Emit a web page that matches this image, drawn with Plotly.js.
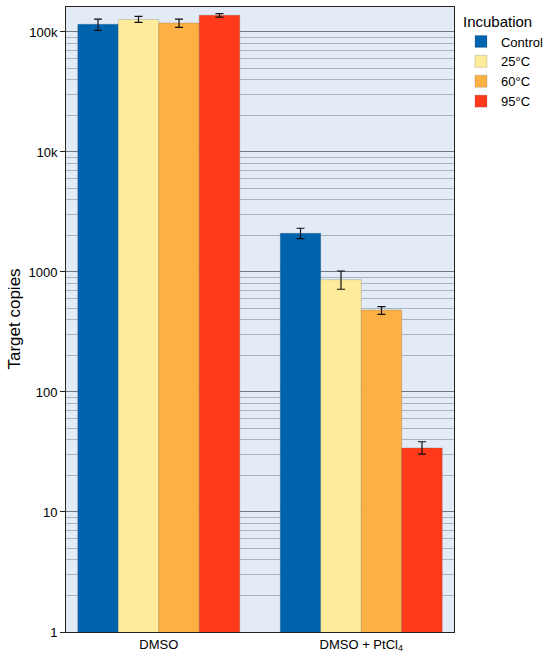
<!DOCTYPE html>
<html>
<head>
<meta charset="utf-8">
<script src="https://cdn.plot.ly/plotly-3.0.1.min.js"></script>
<style>html,body{margin:0;padding:0;background:#fff;}#chart{width:550px;height:654px;}</style>
</head>
<body>
<div id="chart"></div>
<script>
const categories = ['DMSO', 'DMSO + PtCl<sub>4</sub>'];
const seriesNames = ['Control', '25°C', '60°C', '95°C'];
const control = [116000, 2100];
const controlUpper = [128000, 2313];
const controlLower = [103000, 1896];
const t25 = [127000, 863];
const t25Upper = [135000, 1019];
const t25Lower = [120000, 718];
const t60 = [119000, 482];
const t60Upper = [128000, 514];
const t60Lower = [109000, 444];
const t95 = [138000, 34.2];
const t95Upper = [142000, 38.5];
const t95Lower = [133000, 30.3];
const yTickVals = [1, 10, 100, 1000, 10000, 100000];
const yTickText = ['1', '10', '100', '1000', '10k', '100k'];
const yTitle = 'Target copies';

const colors = ['#0063ad', '#feeb9b', '#fdb043', '#ff3b1c'];
const values = [control, t25, t60, t95];
const uppers = [controlUpper, t25Upper, t60Upper, t95Upper];
const lowers = [controlLower, t25Lower, t60Lower, t95Lower];

const traces = seriesNames.map((name, i) => ({
  type: 'bar',
  name: name,
  x: categories,
  y: values[i],
  marker: {color: colors[i], line: {color: 'rgba(70,70,70,0.4)', width: 0.5}},
  error_y: {
    type: 'data',
    symmetric: false,
    array: values[i].map((v, j) => uppers[i][j] - v),
    arrayminus: values[i].map((v, j) => v - lowers[i][j]),
    color: '#111',
    thickness: 1.2,
    width: 4
  }
}));

const minorVals = [];
for (let p = 0; p <= 5; p++) {
  for (let d = 2; d <= 9; d++) minorVals.push(d * Math.pow(10, p));
}

const layout = {
  width: 550,
  height: 654,
  margin: {l: 66, r: 96, t: 7, b: 22, autoexpand: false},
  paper_bgcolor: '#ffffff',
  plot_bgcolor: '#e2ebf6',
  font: {family: 'Liberation Sans, Arial, sans-serif', color: '#000', size: 13},
  barmode: 'group',
  bargap: 0.2,
  bargroupgap: 0,
  showlegend: true,
  legend: {
    x: 1.018, xanchor: 'left', y: 1.0, yanchor: 'top',
    title: {text: 'Incubation', font: {size: 15}},
    font: {size: 13},
    bgcolor: 'rgba(0,0,0,0)',
    itemwidth: 30
  },
  xaxis: {
    type: 'category',
    automargin: false,
    range: [-0.458, 1.458],
    showline: true, linecolor: '#222', linewidth: 1, mirror: true,
    ticks: '', showgrid: false,
    tickfont: {size: 13}
  },
  yaxis: {
    type: 'log',
    automargin: false,
    range: [0, 5.208],
    tickmode: 'array',
    tickvals: yTickVals,
    ticktext: yTickText,
    ticks: 'outside', ticklen: 5, tickcolor: '#222',
    showline: true, linecolor: '#222', linewidth: 1, mirror: true,
    showgrid: true, gridcolor: '#6e7884', gridwidth: 1,
    zeroline: false,
    tickfont: {size: 13},
    minor: {tickmode: 'array', tickvals: minorVals, showgrid: true, gridcolor: '#aab4c0', gridwidth: 1, ticks: ''}
  },
  annotations: [{
    text: yTitle, textangle: -90, showarrow: false,
    xref: 'paper', yref: 'paper', x: -0.134, y: 0.5,
    xanchor: 'center', yanchor: 'middle',
    font: {size: 17}
  }]
};

Plotly.newPlot('chart', traces, layout, {displayModeBar: false, staticPlot: true});
</script>
</body>
</html>
